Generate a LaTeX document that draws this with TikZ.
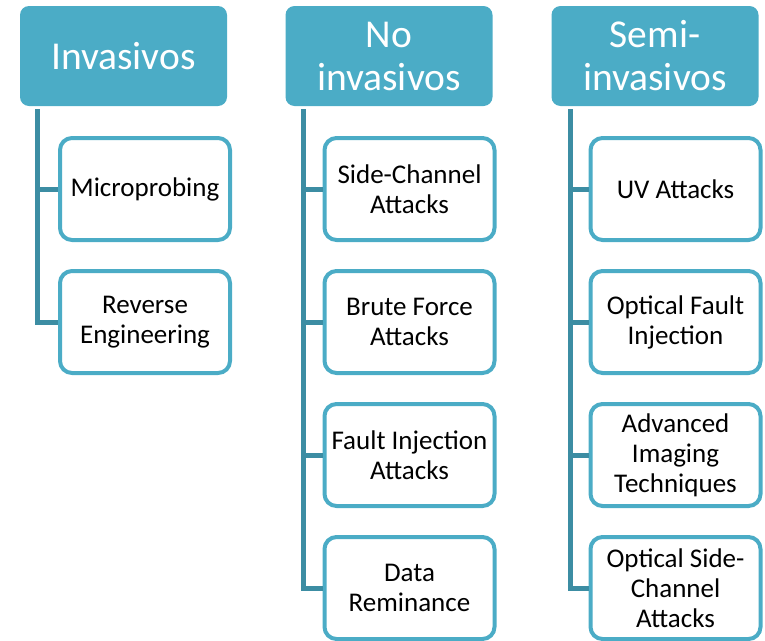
\documentclass[tikz,border=0pt]{standalone}
\usepackage{fontspec}
\setmainfont{Carlito}
\usepackage{xcolor}
\usepackage{tikz}
\usetikzlibrary{
	positioning
}
\definecolor{aqua}{HTML}{4BACC6}
\definecolor{aquadark}{HTML}{3C8DA3}

\begin{document}
\begin{tikzpicture}[
	x=1pt, y=1pt,
	headbox/.style={
		rectangle, rounded corners=9pt,
		minimum width=207pt, minimum height=100pt, inner sep=0pt,
		align=center, fill=aqua, text=white, font=\fontsize{39.5}{43}\selectfont
	},
	leafbox/.style={
		rectangle, draw=aqua, line width=4pt, rounded corners=12pt,
		minimum width=170pt, minimum height=102pt, inner sep=0pt,
		align=center, fill=white, font=\fontsize{27}{30}\selectfont
	},
	link/.style={draw=aquadark, line width=5pt},
	]
	
	\useasboundingbox (0,0) rectangle (765,-640);
	
	%first set
	\node[headbox] (inv) at (123.5,-56) {Invasivos};
	\node[leafbox] (inv1) at (145,-189) {Microprobing};
	\node[leafbox, below=27pt of inv1] (inv2) {Reverse\\Engineering};
	\coordinate (invtrunk) at ([xshift=18pt, yshift=-3pt]inv.south west);
	\draw[link] (invtrunk) |- (inv2.west);
	\draw[link] (inv1.west) -- (inv1.west -| invtrunk);
	
	%2. set
	\node[headbox] (noinv) at (389,-56) {No\\invasivos};
	\node[leafbox] (noinv1) at (409.5,-189) {Side-Channel\\Attacks};
	\node[leafbox, below=27pt of noinv1] (noinv2) {Brute Force\\Attacks};
	\node[leafbox, below=27pt of noinv2] (noinv3) {Fault Injection\\Attacks};
	\node[leafbox, below=27pt of noinv3] (noinv4) {Data\\Reminance};
	\coordinate (noinvtrunk) at ([xshift=18pt, yshift=-3pt]noinv.south west);
	\draw[link] (noinvtrunk) |- (noinv4.west);
	\draw[link] (noinv1.west) -- (noinv1.west -| noinvtrunk);
	\draw[link] (noinv2.west) -- (noinv2.west -| noinvtrunk);
	\draw[link] (noinv3.west) -- (noinv3.west -| noinvtrunk);
	
	%3. set
	\node[headbox] (semi) at (655,-56) {Semi-\\invasivos};
	\node[leafbox] (semi1) at (675.5,-189) {UV Attacks};
	\node[leafbox, below=27pt of semi1] (semi2) {Optical Fault\\Injection};
	\node[leafbox, below=27pt of semi2] (semi3) {Advanced\\Imaging\\Techniques};
	\node[leafbox, below=27pt of semi3] (semi4) {Optical Side-\\Channel\\Attacks};
	\coordinate (semitrunk) at ([xshift=19pt, yshift=-3pt]semi.south west);
	\draw[link] (semitrunk) |- (semi4.west);
	\draw[link] (semi1.west) -- (semi1.west -| semitrunk);
	\draw[link] (semi2.west) -- (semi2.west -| semitrunk);
	\draw[link] (semi3.west) -- (semi3.west -| semitrunk);
\end{tikzpicture}
\end{document}
